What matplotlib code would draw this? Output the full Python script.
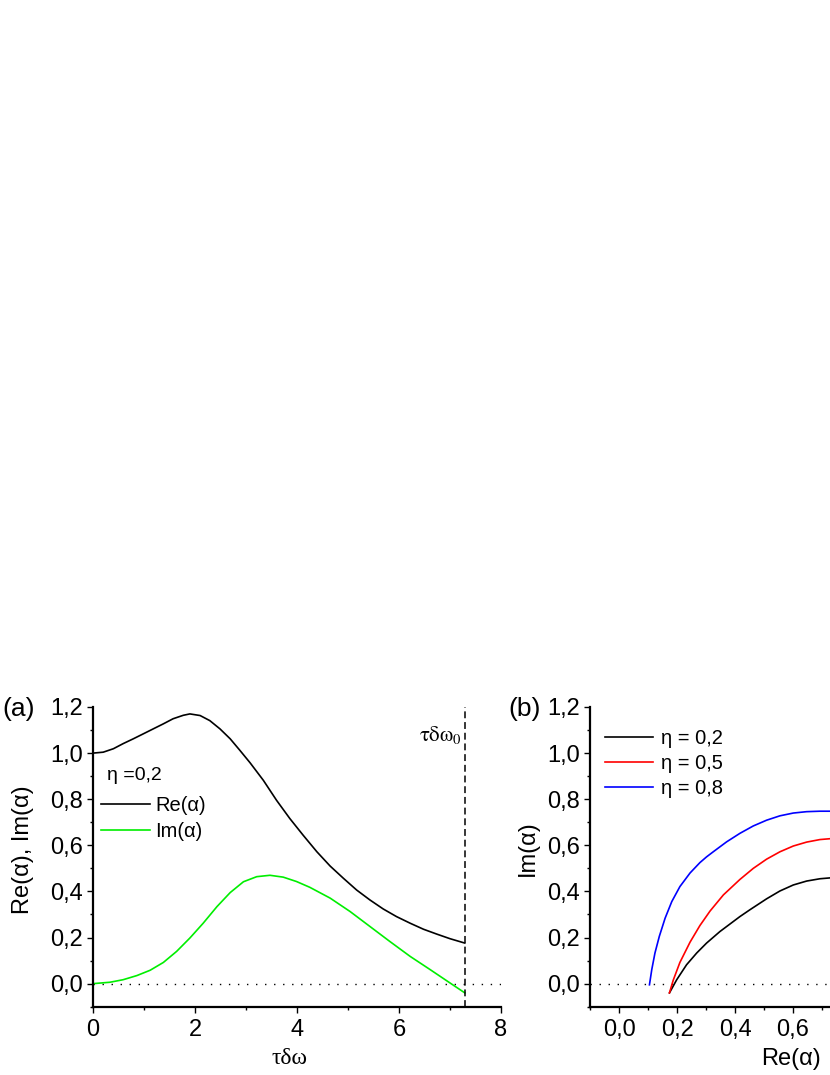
import matplotlib
matplotlib.use("Agg")
import matplotlib.pyplot as plt
from matplotlib.ticker import FixedLocator, FuncFormatter, MultipleLocator

plt.rcParams['font.family'] = ['Liberation Sans', 'DejaVu Sans']
plt.rcParams['mathtext.fontset'] = 'stix'

# ---------------- data: panel (a) ----------------
tdw_re = [0.0, 0.20, 0.40, 0.59, 0.79, 0.99, 1.18, 1.38, 1.57, 1.77, 1.90,
          2.10, 2.29, 2.49, 2.69, 2.88, 3.08, 3.34, 3.60, 3.86, 4.12, 4.39,
          4.65, 4.91, 5.17, 5.43, 5.69, 5.95, 6.22, 6.48, 6.74, 7.0, 7.29]
re_alpha = [1.0, 1.004, 1.019, 1.041, 1.062, 1.084, 1.105, 1.127, 1.149, 1.164,
            1.170, 1.163, 1.141, 1.105, 1.062, 1.012, 0.958, 0.882, 0.795,
            0.716, 0.644, 0.572, 0.51, 0.457, 0.406, 0.363, 0.324, 0.291,
            0.262, 0.236, 0.215, 0.195, 0.176]
tdw_im = [0.0, 0.33, 0.59, 0.86, 1.12, 1.38, 1.64, 1.90, 2.16, 2.43, 2.69,
          2.95, 3.21, 3.47, 3.73, 3.99, 4.25, 4.65, 5.04, 5.43, 5.82, 6.22,
          6.61, 7.0, 7.29]
im_alpha = [0.0, 0.006, 0.017, 0.035, 0.058, 0.092, 0.14, 0.198, 0.262, 0.334,
            0.395, 0.442, 0.464, 0.47, 0.462, 0.443, 0.418, 0.371, 0.313,
            0.248, 0.183, 0.118, 0.061, 0.003, -0.04]
tdw0 = 7.29
eta_a = "0,2"

# ---------------- data: panel (b) ----------------
re_eta02 = [0.174, 0.199, 0.233, 0.268, 0.302, 0.348, 0.417, 0.452, 0.509,
            0.555, 0.601, 0.647, 0.693, 0.74]
im_eta02 = [-0.04, 0.017, 0.082, 0.133, 0.176, 0.226, 0.291, 0.321, 0.368,
            0.402, 0.428, 0.445, 0.455, 0.46]
re_eta05 = [0.174, 0.187, 0.21, 0.245, 0.279, 0.314, 0.36, 0.417, 0.463,
            0.509, 0.555, 0.601, 0.647, 0.693, 0.74]
im_eta05 = [-0.04, 0.015, 0.092, 0.18, 0.252, 0.315, 0.385, 0.452, 0.5,
            0.54, 0.572, 0.597, 0.614, 0.625, 0.63]
re_eta08 = [0.105, 0.113, 0.124, 0.139, 0.159, 0.182, 0.21, 0.245, 0.279,
            0.302, 0.325, 0.371, 0.417, 0.463, 0.509, 0.555, 0.601, 0.647,
            0.693, 0.74]
im_eta08 = [-0.005, 0.061, 0.133, 0.205, 0.284, 0.356, 0.421, 0.48, 0.525,
            0.55, 0.572, 0.615, 0.652, 0.684, 0.709, 0.728, 0.740, 0.746,
            0.748, 0.748]
labels_b = ["η = 0,2", "η = 0,5", "η = 0,8"]
colors_b = ["black", "red", "blue"]

W, H = 830, 1075
fig = plt.figure(figsize=(W / 100, H / 100), dpi=100)

def fx(px):
    return px / W

def fy(py):
    return 1 - py / H

ax_top, ax_bot = 707.0, 1006.7
ax_a = fig.add_axes([fx(93), fy(ax_bot), (501 - 93) / W, (ax_bot - ax_top) / H])
ax_b = fig.add_axes([fx(590), fy(ax_bot), 406 / W, (ax_bot - ax_top) / H])

comma = FuncFormatter(lambda v, p: f"{v:.1f}".replace(".", ","))

for ax in (ax_a, ax_b):
    for s in ("top", "right"):
        ax.spines[s].set_visible(False)
    for s in ("left", "bottom"):
        ax.spines[s].set_linewidth(1.6)
    ax.tick_params(which="major", direction="out", length=4, width=1.0,
                   labelsize=17, pad=3)
    ax.tick_params(which="minor", direction="out", length=2.5, width=1.0)
    ax.set_ylim(-0.1, 1.2)
    ax.yaxis.set_major_locator(FixedLocator([0, 0.2, 0.4, 0.6, 0.8, 1.0, 1.2]))
    ax.yaxis.set_minor_locator(FixedLocator([-0.1, 0.1, 0.3, 0.5, 0.7, 0.9, 1.1]))
    ax.yaxis.set_major_formatter(comma)
    ax.axhline(0, color="black", lw=1.0, ls=(0, (1, 5.5)), zorder=1)

# panel (a)
ax_a.set_xlim(0, 8)
ax_a.xaxis.set_major_locator(MultipleLocator(2))
ax_a.xaxis.set_minor_locator(MultipleLocator(1))
ax_a.tick_params(axis="x", which="major", pad=5)
ax_a.plot(tdw_re, re_alpha, color="black", lw=1.2, label="Re(α)")
ax_a.plot(tdw_im, im_alpha, color="#00ee00", lw=1.2, label="Im(α)")
ax_a.axvline(tdw0, color="black", lw=1.1, ls=(0, (4.5, 2.5)))
ax_a.legend(loc="upper left", bbox_to_anchor=(0.0196, 0.703), frameon=False,
            fontsize=14.5, handlelength=2.44, handletextpad=0.25,
            labelspacing=0.37, borderpad=0, borderaxespad=0)

# panel (b)
xb_ticks = [0, 0.2, 0.4, 0.6, 0.8, 1.0, 1.2]
ax_b.set_xlim(-0.1, 1.3)
ax_b.xaxis.set_major_locator(FixedLocator(xb_ticks))
ax_b.xaxis.set_minor_locator(FixedLocator([-0.1, 0.1, 0.3, 0.5, 0.7, 0.9, 1.1]))
ax_b.xaxis.set_major_formatter(
    FuncFormatter(lambda v, p: f"{v:.1f}".replace(".", ",") if v < 0.7 else ""))
ax_b.tick_params(axis="x", which="major", pad=5)
for xs, ys, c, lab in zip([re_eta02, re_eta05, re_eta08],
                          [im_eta02, im_eta05, im_eta08], colors_b, labels_b):
    ax_b.plot(xs, ys, color=c, lw=1.2, label=lab)
ax_b.legend(loc="upper left", bbox_to_anchor=(0.037, 0.927), frameon=False,
            fontsize=14.5, handlelength=2.39, handletextpad=0.38,
            labelspacing=0.31, borderpad=0, borderaxespad=0)

# texts
fig.text(fx(19), fy(709), "(a)", fontsize=19, ha="center", va="center")
fig.text(fx(525), fy(709), "(b)", fontsize=19, ha="center", va="center")
fig.text(fx(23), fy(850), "Re(α), Im(α)", fontsize=17, rotation=90,
         ha="center", va="center")
fig.text(fx(528), fy(848), "Im(α)", fontsize=17, rotation=90,
         ha="center", va="center")
fig.text(fx(290), fy(1058), "τδω", fontsize=17, family="Liberation Serif",
         ha="center", va="center")
fig.text(fx(791), fy(1059), "Re(α)", fontsize=17, ha="center", va="center")
fig.text(fx(107), fy(776), "η =" + eta_a, fontsize=14, ha="left", va="center")
fig.text(fx(462), fy(735), r"$\mathrm{\tau\delta\omega_0}$", fontsize=15,
         ha="right", va="center")

fig.savefig("out.png", dpi=100)
